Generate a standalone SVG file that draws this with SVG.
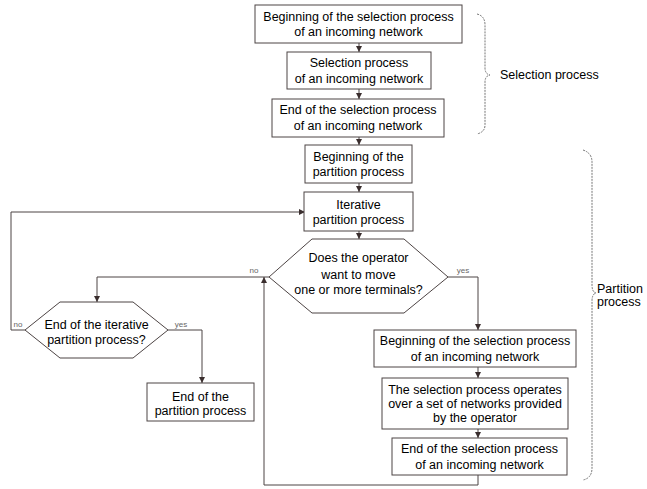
<svg xmlns="http://www.w3.org/2000/svg" width="647" height="489" viewBox="0 0 647 489">
<defs>
<style>
.box{fill:#fff;stroke:#4d4444;stroke-width:1}
.t{font-family:"Liberation Sans",Arial,sans-serif;font-size:12.5px;fill:#000;text-anchor:middle}
.lbl{font-family:"Liberation Sans",Arial,sans-serif;font-size:8px;fill:#666;text-anchor:middle}
.c{fill:none;stroke:#4d4444;stroke-width:1}
.br{fill:none;stroke:#777;stroke-width:1;stroke-dasharray:2,1}
.bt{font-family:"Liberation Sans",Arial,sans-serif;font-size:12.5px;fill:#000}
</style>
<marker id="ah" markerWidth="6" markerHeight="6" refX="6" refY="3" orient="auto" markerUnits="userSpaceOnUse">
<path d="M0,0 L6,3 L0,6 Z" fill="#3a2e2e"/>
</marker>
</defs>
<rect width="647" height="489" fill="#fff"/>
<g id="connectors">
<path class="c" d="M359,43 V52" marker-end="url(#ah)"/>
<path class="c" d="M359,89 V99" marker-end="url(#ah)"/>
<path class="c" d="M359,137 V145" marker-end="url(#ah)"/>
<path class="c" d="M359,183 V192" marker-end="url(#ah)"/>
<path class="c" d="M359,231 V239" marker-end="url(#ah)"/>
<path class="c" d="M269,277 H97 V302" marker-end="url(#ah)"/>
<path class="c" d="M448,277 H478 V330" marker-end="url(#ah)"/>
<path class="c" d="M478,367 V378" marker-end="url(#ah)"/>
<path class="c" d="M478,429 V438" marker-end="url(#ah)"/>
<path class="c" d="M478,475 V485 H264 V277" marker-end="url(#ah)"/>
<path class="c" d="M25,330 H11 V212 H305" marker-end="url(#ah)"/>
<path class="c" d="M168,330 H202 V383" marker-end="url(#ah)"/>
<text class="lbl" x="254" y="273">no</text>
<text class="lbl" x="463" y="273">yes</text>
<text class="lbl" x="18" y="327">no</text>
<text class="lbl" x="181" y="327">yes</text>
</g>
<g id="n1"><rect class="box" x="255" y="5" width="207" height="38"/><text class="t" x="358.5" y="20.5">Beginning of the selection process</text><text class="t" x="358.5" y="36">of an incoming network</text></g>
<g id="n2"><rect class="box" x="287" y="52" width="144" height="37"/><text class="t" x="359" y="67">Selection process</text><text class="t" x="359" y="82.5">of an incoming network</text></g>
<g id="n3"><rect class="box" x="272" y="99" width="172" height="38"/><text class="t" x="358" y="114">End of the selection process</text><text class="t" x="358" y="129.5">of an incoming network</text></g>
<g id="n4"><rect class="box" x="305" y="145" width="107" height="38"/><text class="t" x="358.5" y="161">Beginning of the</text><text class="t" x="358.5" y="176">partition process</text></g>
<g id="n5"><rect class="box" x="304" y="192" width="109" height="39"/><text class="t" x="358.5" y="209">Iterative</text><text class="t" x="358.5" y="224">partition process</text></g>
<g id="d1"><polygon class="box" points="269,277 312,239 404,239 448,277 404,313 312,313"/><text class="t" x="358.5" y="262">Does the operator</text><text class="t" x="358.5" y="279">want to move</text><text class="t" x="358.5" y="294">one or more terminals?</text></g>
<g id="d2"><polygon class="box" points="25,330 60,302 133,302 168,330 133,358 60,358"/><text class="t" x="96.5" y="329">End of the iterative</text><text class="t" x="96.5" y="344">partition process?</text></g>
<g id="n9"><rect class="box" x="147" y="383" width="107" height="38"/><text class="t" x="200.5" y="401">End of the</text><text class="t" x="200.5" y="415">partition process</text></g>
<g id="n6"><rect class="box" x="374" y="330" width="202" height="37"/><text class="t" x="475" y="345">Beginning of the selection process</text><text class="t" x="475" y="360.5">of an incoming network</text></g>
<g id="n7"><rect class="box" x="382" y="378" width="186" height="51"/><text class="t" x="475" y="394">The selection process operates</text><text class="t" x="475" y="408">over a set of networks provided</text><text class="t" x="475" y="422">by the operator</text></g>
<g id="n8"><rect class="box" x="392" y="438" width="175" height="37"/><text class="t" x="479.5" y="453">End of the selection process</text><text class="t" x="479.5" y="468.5">of an incoming network</text></g>
<g id="brace-selection"><path class="br" d="M477,14 Q485,16 485,25 V68 Q485,74 490,75 Q485,76 485,82 V125 Q485,132 477,134"/><text class="bt" x="500" y="79">Selection process</text></g>
<g id="brace-partition"><path class="br" d="M583,150 Q592,153 592,162 V285 Q592,292 596,293 Q592,294 592,301 V468 Q592,478 583,480"/><text class="bt" x="597" y="293">Partition</text><text class="bt" x="597" y="306">process</text></g>
</svg>
